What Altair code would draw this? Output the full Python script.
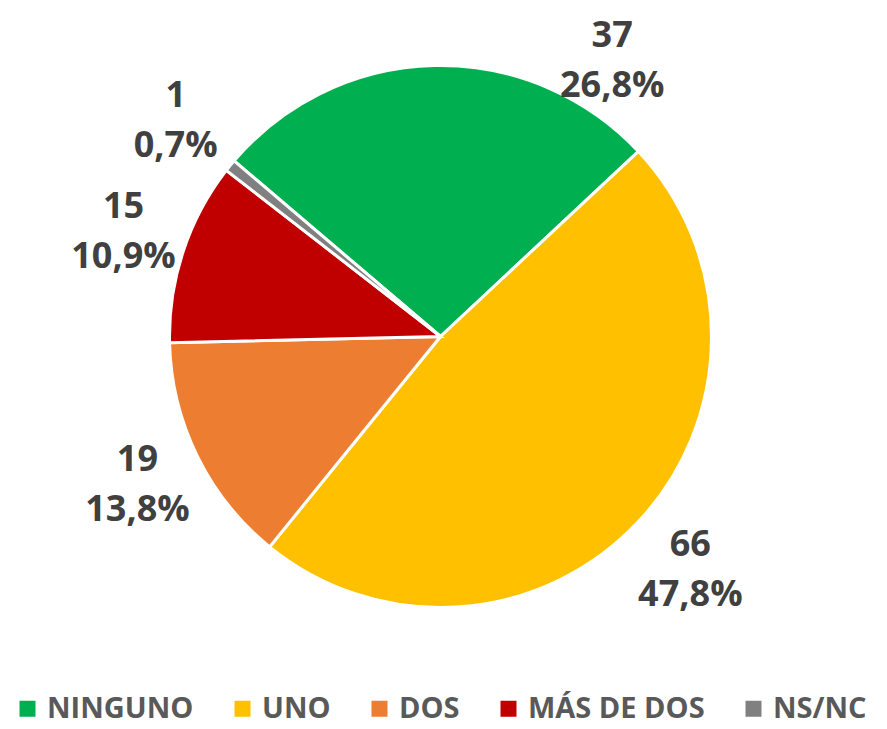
import math
import altair as alt
import pandas as pd

categories = ["NINGUNO", "UNO", "DOS", "MÁS DE DOS", "NS/NC"]
counts = [37, 66, 19, 15, 1]
colors = ["#00B050", "#FFC000", "#ED7D31", "#C00000", "#808080"]

df = pd.DataFrame({"category": categories, "value": counts, "order": list(range(len(categories)))})

START = math.radians(-49.6)
R = 271
CX, CY = 432.5, 328.5
YLIM = 276  # min vertical room above centre for labels
LH = 50

base = alt.Chart(df)

arcs = base.mark_arc(outerRadius=R, stroke="white", strokeWidth=3).encode(
    theta=alt.Theta("value:Q", stack=True, scale=alt.Scale(range=[START, START + 2 * math.pi])),
    color=alt.Color(
        "category:N",
        sort=categories,
        scale=alt.Scale(domain=categories, range=colors),
        legend=alt.Legend(
            title=None, orient="none", direction="horizontal", legendX=5, legendY=686,
            symbolType="square", symbolSize=256, symbolStrokeWidth=0,
            labelFont="Open Sans", labelFontWeight="bold", labelFontSize=29, labelColor="#595959",
            labelOffset=5, columnPadding=34, labelLimit=400,
        ),
    ),
    order=alt.Order("order:Q"),
    x=alt.value(CX),
    y=alt.value(CY),
)

labels = base.transform_joinaggregate(
    total="sum(value)"
).transform_window(
    cum="sum(value)", sort=[alt.SortField("order")], frame=[None, 0]
).transform_calculate(
    mid=f"{START} + 2*PI*(datum.cum - datum.value/2)/datum.total"
).transform_calculate(
    r=f"{R} + 5 + 45*abs(sin(datum.mid)) + 48*abs(cos(datum.mid))"
).transform_calculate(
    th=f"datum.r*cos(datum.mid) > {YLIM} ? acos({YLIM}/datum.r) : datum.mid",
    lab="datum.value + '\\n' + replace(format(datum.value/datum.total, '.1%'), '.', ',')",
).mark_text(
    font="Open Sans", fontWeight="bold", fontSize=36, color="#404040",
    lineBreak="\n", lineHeight=LH, align="center", baseline="middle", dy=-LH / 2,
).encode(
    theta=alt.Theta("th:Q", stack=False, scale=None),
    radius=alt.Radius("r:Q", scale=None),
    text="lab:N",
    x=alt.value(CX),
    y=alt.value(CY),
)

chart = alt.layer(arcs, labels).resolve_scale(theta="independent").properties(
    width=871, height=721, autosize=alt.AutoSizeParams(type="none"), padding=0
).configure_view(stroke=None)

chart.save("out.html", embed_options={"renderer": "svg", "actions": False})
